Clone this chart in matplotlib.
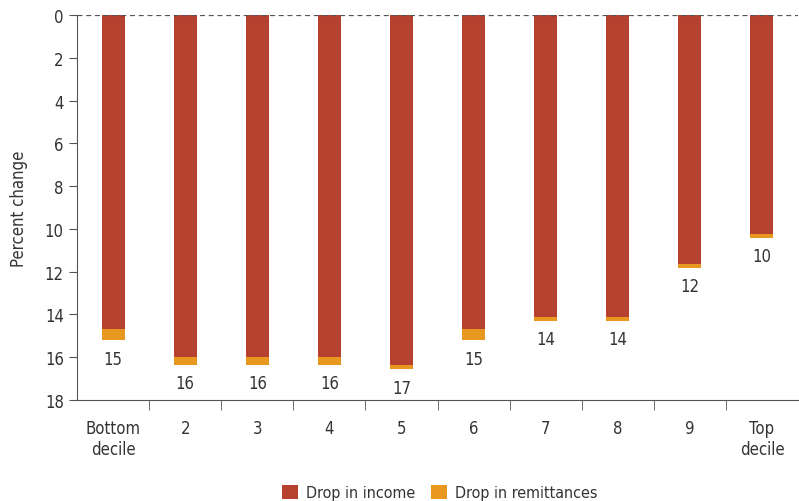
import numpy as np
import matplotlib
matplotlib.use("Agg")
from matplotlib import pyplot as plt

plt.rcParams['font.family'] = ['DejaVu Sans']
plt.rcParams['font.stretch'] = 'condensed'

# data
categories = ["Bottom\ndecile", "2", "3", "4", "5", "6", "7", "8", "9", "Top\ndecile"]
income_drop = [14.7, 16.0, 16.0, 16.0, 16.35, 14.7, 14.1, 14.1, 11.65, 10.25]
remit_drop = [0.5, 0.35, 0.35, 0.35, 0.22, 0.5, 0.19, 0.19, 0.17, 0.17]
totals = ["15", "16", "16", "16", "17", "15", "14", "14", "12", "10"]

c_income = "#B5412E"
c_remit = "#E8981E"
txt = "#333333"

fig = plt.figure(figsize=(7.99, 5.02), dpi=100)
ax = fig.add_axes([77/799, 101/502, 721/799, 385/502])

x = np.arange(len(categories))
ax.bar(x, income_drop, width=0.32, color=c_income, label="Drop in income")
ax.bar(x, remit_drop, width=0.32, bottom=income_drop, color=c_remit, label="Drop in remittances")

for xi, inc, rem, t in zip(x, income_drop, remit_drop, totals):
    ax.text(xi, inc + rem + 0.45, t, ha="center", va="top", fontsize=12, color=txt)

ax.axhline(0, color="#555555", lw=0.9, ls=(0, (4, 3)))

ax.set_ylim(18, 0)
ax.set_xlim(-0.5, 9.5)
ax.set_yticks(np.arange(0, 19, 2))
ax.set_xticks(x)
ax.set_xticklabels(categories, fontsize=12, color=txt, va="top", linespacing=1.15)
ax.set_xticks(np.arange(0.5, 9.5, 1), minor=True)
ax.tick_params(axis="x", which="major", length=0, pad=14)
ax.tick_params(axis="x", which="minor", length=7, direction="out", color="#555555")
ax.tick_params(axis="y", length=6, color="#555555", labelsize=12, labelcolor=txt)
ax.set_ylabel("Percent change", fontsize=12, color=txt, labelpad=12)

for s in ["top", "right"]:
    ax.spines[s].set_visible(False)
ax.spines["left"].set_color("#555555")
ax.spines["bottom"].set_color("#555555")

fig.legend(loc="lower center", bbox_to_anchor=(0.55, -0.027), ncol=2, frameon=False,
           fontsize=11.5, handlelength=1.0, handleheight=1.0, columnspacing=1.0,
           handletextpad=0.5, labelcolor=txt)

fig.savefig("out.png", dpi=100)
